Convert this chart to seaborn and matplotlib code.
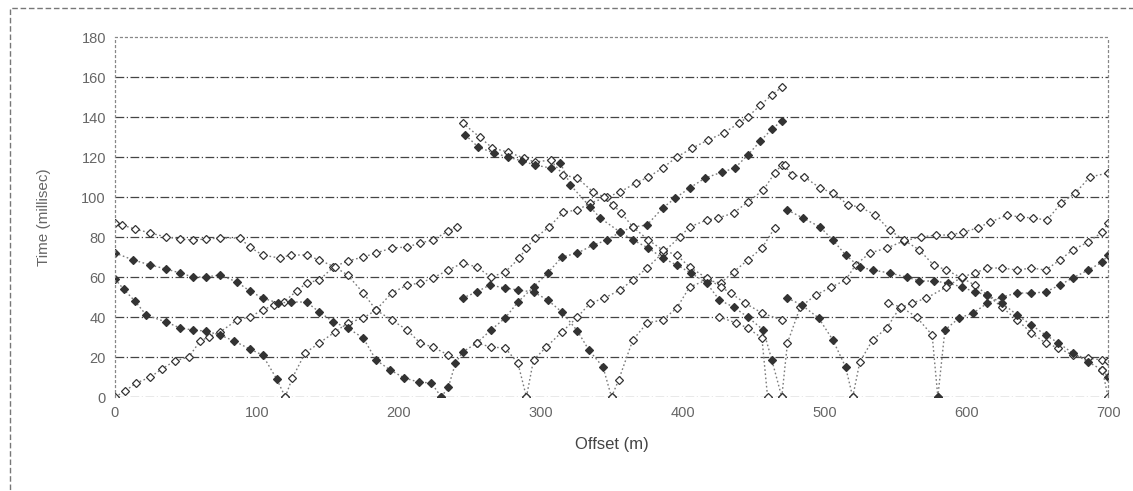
import matplotlib
matplotlib.use("Agg")
import matplotlib.pyplot as plt
import seaborn as sns
from matplotlib.patches import Rectangle

# ---------------- data (offset in m, time in ms) ----------------
s0_right_x = [0, 7, 15, 25, 33, 42, 52, 60, 66, 74, 86, 95, 104, 112, 119, 128, 135, 144, 154, 164, 175, 184, 195, 206, 215, 224, 235, 241]
s0_right_t = [0, 3, 7, 10, 14, 18, 20, 28, 30, 32.5, 38.5, 40, 43.5, 46, 47.5, 53, 57, 58.5, 65, 68, 70, 72, 74.5, 75, 77, 78.5, 83, 85]

s120_left_x = [0, 6, 14, 22, 36, 46, 55, 64, 74, 84, 95, 104, 114, 120]
s120_left_t = [59, 54, 48, 41, 37.5, 34.5, 33.5, 33, 31, 28, 24, 21, 9, 0]

s120_right_x = [120, 125, 134, 144, 155, 164, 175, 184, 195, 206, 215, 224, 235, 245, 255, 265, 275, 285, 290, 296, 306, 316, 326, 335, 347, 356, 367, 376, 386, 396, 407, 418, 429, 440, 446, 455, 463, 470]
s120_right_t = [0, 9.5, 22, 27, 32.5, 37, 39.5, 43.5, 52, 56, 57, 59.5, 63.5, 67, 65, 60, 62.5, 69.5, 74.5, 79.5, 85, 92.5, 93.5, 97, 100, 102.5, 107, 110, 114.5, 120, 124.5, 128.5, 132, 137, 140, 146, 151, 155]

s230_left_x = [0, 13, 25, 36, 46, 55, 64, 74, 86, 95, 104, 115, 124, 135, 144, 154, 164, 175, 184, 194, 204, 214, 223, 230]
s230_left_t = [72, 68.5, 66, 64, 62, 60, 60, 61, 57.5, 53, 49.5, 47, 47.5, 47.5, 42.5, 37.5, 34.5, 29.5, 18.5, 13.5, 9.5, 7.5, 7, 0]

s290_far_x = [0, 5, 14, 25, 36, 46, 55, 64, 74, 88, 95, 104, 116, 124, 135, 144, 155, 164, 175, 184, 195, 206, 215, 224, 235]
s290_far_t = [87, 86, 84, 82, 80, 79, 78.5, 79, 79.5, 79.5, 75, 71, 69.5, 71, 71, 68.5, 65, 61, 52, 43.5, 38.5, 33.5, 27, 25, 21]

s230_right_x = [230, 235, 240, 245, 255, 265, 275, 284, 295, 305, 315, 326, 337, 347, 356, 365, 375, 386, 395, 405, 416, 428, 437, 446, 455, 463, 470]
s230_right_t = [0, 5, 17, 22.5, 27, 33.5, 39.5, 47.5, 55, 62, 70, 72, 76, 78.5, 82.5, 85, 86, 94.5, 99.5, 104.5, 109.5, 112.5, 114.5, 121, 128, 134, 138]

s290_left_x = [255, 265, 275, 284, 290]
s290_left_t = [27, 25, 24.5, 17, 0]

s290_right_x = [290, 295, 304, 315, 326, 335, 345, 356, 365, 375, 386, 398, 405, 417, 425, 436, 446, 457, 465, 470]
s290_right_t = [0, 18.5, 25, 32.5, 40, 47, 49.5, 53.5, 58.5, 64.5, 72, 80, 85, 88.5, 89.5, 92, 97.5, 103.5, 112, 116]

s350_left_x = [245, 255, 264, 275, 284, 295, 305, 315, 326, 334, 344, 350]
s350_left_t = [49.5, 52.5, 56, 54.5, 53.5, 52.5, 48.5, 42.5, 33, 23.5, 15, 0]

s350_right_x = [350, 355, 365, 375, 386, 396, 405, 417, 427, 436, 446, 456, 465]
s350_right_t = [0, 8.5, 28.5, 37, 38.5, 44.5, 55, 58.5, 57, 62.5, 68.5, 74.5, 84.5]

far1_spread2_x = [245, 257, 266, 277, 288, 296, 307, 316, 326, 337, 345, 351, 357, 365, 376, 386, 396, 405, 417, 427, 434, 444, 456, 470]
far1_spread2_t = [137, 130, 124.5, 122.5, 119.5, 117.5, 118.5, 111, 109.5, 102.5, 100, 96, 92, 85, 78.5, 73.5, 71, 65, 59.5, 55, 52, 47, 42, 38.5]

s470_left_x = [247, 256, 267, 277, 287, 296, 307, 314, 321, 335, 342, 356, 365, 376, 386, 396, 406, 417, 426, 436, 446, 457, 463, 470]
s470_left_t = [131, 125, 122, 120, 118, 116, 114.5, 117, 106, 95, 89.5, 82.5, 78.5, 74.5, 69.5, 66, 62, 57, 48.5, 45, 40, 33.5, 18.5, 0]

s460_left_x = [426, 438, 446, 456, 460]
s460_left_t = [40, 37, 34.5, 29.5, 0]

s470_right_x = [470, 474, 483, 494, 505, 515, 522, 532, 544, 556, 568, 579, 589, 598, 608, 617, 629, 638, 647, 657, 667, 677, 687, 700]
s470_right_t = [0, 27, 45, 51, 55, 58.5, 66, 72, 74.5, 78, 80, 81, 81, 82.5, 84.5, 87.5, 91, 90, 89.5, 88.5, 97, 102, 110, 112]

far1_spread3_x = [472, 477, 486, 497, 506, 517, 525, 536, 546, 556, 567, 577, 586, 597, 606, 615, 625, 636, 646, 656, 665, 675, 686, 696, 700]
far1_spread3_t = [116, 111, 110, 104.5, 102, 96, 95, 91, 83.5, 78.5, 73.5, 66, 63.5, 59.5, 56, 51, 45, 38.5, 32, 27, 24.5, 21, 19.5, 18.5, 18]

far2_spread3_x = [474, 485, 497, 506, 515, 525, 534, 546, 558, 567, 577, 587, 597, 606, 615, 625, 636, 646, 656, 665, 675, 686, 696, 700]
far2_spread3_t = [93.5, 89.5, 85, 78.5, 71, 65, 63.5, 62, 60, 58, 58, 57, 55, 52.5, 51, 47, 41, 36, 31, 27, 22, 17.5, 13.5, 10]

s520_left_x = [474, 484, 496, 506, 515, 520]
s520_left_t = [49.5, 46, 39.5, 28.5, 15, 0]

s520_right_x = [520, 525, 534, 544, 553, 562, 572, 586, 597, 606, 615, 625, 636, 646, 656, 666, 675, 686, 696, 700]
s520_right_t = [0, 17.5, 28.5, 34.5, 44.5, 47, 49.5, 55, 60, 62, 64.5, 64.5, 63.5, 64.5, 63.5, 68.5, 73.5, 77.5, 82.5, 87]

s580_left_x = [545, 554, 565, 576, 580]
s580_left_t = [47, 45, 40, 31, 0]

s580_right_x = [580, 585, 595, 605, 615, 625, 636, 646, 656, 666, 675, 686, 696, 700]
s580_right_t = [0, 33.5, 39.5, 42, 47, 50, 52, 52, 52.5, 56, 59.5, 63.5, 67.5, 71]

s700_x = [696, 700]
s700_t = [13.5, 0]

curves = [
    (s0_right_x, s0_right_t, "w"),
    (s120_left_x, s120_left_t, "#333333"),
    (s120_right_x, s120_right_t, "w"),
    (s230_left_x, s230_left_t, "#333333"),
    (s290_far_x, s290_far_t, "w"),
    (s230_right_x, s230_right_t, "#333333"),
    (s290_left_x, s290_left_t, "w"),
    (s290_right_x, s290_right_t, "w"),
    (s350_left_x, s350_left_t, "#333333"),
    (s350_right_x, s350_right_t, "w"),
    (far1_spread2_x, far1_spread2_t, "w"),
    (s470_left_x, s470_left_t, "#333333"),
    (s460_left_x, s460_left_t, "w"),
    (s470_right_x, s470_right_t, "w"),
    (far1_spread3_x, far1_spread3_t, "w"),
    (far2_spread3_x, far2_spread3_t, "#333333"),
    (s520_left_x, s520_left_t, "#333333"),
    (s520_right_x, s520_right_t, "w"),
    (s580_left_x, s580_left_t, "w"),
    (s580_right_x, s580_right_t, "#333333"),
    (s700_x, s700_t, "w"),
]

x_ticks = [0, 100, 200, 300, 400, 500, 600, 700]
y_ticks = [0, 20, 40, 60, 80, 100, 120, 140, 160, 180]

# ---------------- figure ----------------
sns.set_style("white")
plt.rcParams["font.family"] = ["Liberation Sans", "DejaVu Sans"]

fig = plt.figure(figsize=(11.33, 4.91), dpi=100)
ax = fig.add_axes([0.1015, 0.1914, 0.8765, 0.7332])

for xs, ts, fc in curves:
    sns.lineplot(x=xs, y=ts, ax=ax, sort=False, estimator=None,
                 color="#7a7a7a", linestyle=(0, (1.2, 1.8)), linewidth=1.0,
                 marker="D", markersize=3.6, markerfacecolor=fc,
                 markeredgecolor="#333333", markeredgewidth=0.9)

ax.set_xlim(0, 700)
ax.set_ylim(0, 180)
ax.set_xticks(x_ticks)
ax.set_yticks(y_ticks)
ax.tick_params(axis="both", labelsize=10.5, labelcolor="#666666", length=3,
               color="#777777", direction="out")
for yv in y_ticks[1:-1]:
    ax.axhline(yv, color="#444444", linewidth=0.9, linestyle=(0, (7, 2, 1, 2)), zorder=0)
ax.axhline(0, color="#555555", linewidth=0.9, linestyle=(0, (7, 2, 1, 2)), zorder=0)

for side in ["left", "right", "top"]:
    ax.spines[side].set_color("#888888")
    ax.spines[side].set_linestyle((0, (1.5, 2.5)))
    ax.spines[side].set_linewidth(0.9)
ax.spines["bottom"].set_visible(False)

ax.set_xlabel("Offset (m)", fontsize=12, color="#444444", labelpad=12)
ax.set_ylabel("Time (millisec)", fontsize=11, color="#666666", labelpad=22)

# scanned chart-area border (top and left edges)
fig.patches.append(Rectangle((0.009, -0.05), 1.1, 1.034, transform=fig.transFigure,
                             fill=False, edgecolor="#777777", linewidth=1.0,
                             linestyle=(0, (4, 2))))

fig.savefig("out.png", dpi=100)
